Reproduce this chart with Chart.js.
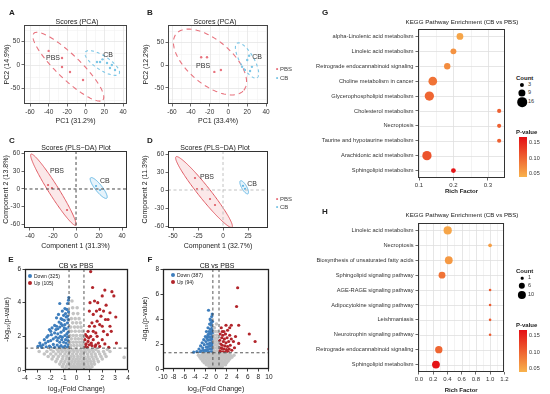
<!DOCTYPE html>
<html><head><meta charset="utf-8">
<script src="https://cdn.jsdelivr.net/npm/chart.js@4"></script>
<style>
body{margin:0;background:#fff;}
#wrap{position:relative;width:550px;height:394px;overflow:hidden;font-family:"Liberation Sans",Arial,sans-serif;color:#222;background:#fff}
canvas{position:absolute}
.t{position:absolute;white-space:nowrap;line-height:1;transform:translate(-50%,-50%)}
.l{position:absolute;white-space:nowrap;line-height:1;transform:translate(0,-50%)}
.dot{position:absolute;border-radius:50%;transform:translate(-50%,-50%)}
</style></head><body><div id="wrap"></div>
<script>
// ---------------- DATA ----------------
const groups = ['PBS', 'CB'];
// Panel A (PCA)
const aTicksX = [-60, -40, -20, 0, 20, 40];
const aTicksY = [-50, 0, 50];
const aPBS = [[-25.6, 14.9], [-25.6, -4.3], [-17, -14.9], [-3, -31.9], [-40, 30]];
const aCB = [[12, 6.4], [15.3, 6.4], [22.8, 4.3], [26, -6.4], [31.4, -10.6], [18, 12], [28, 0]];
const aEllPBS = {c: [-18.8, -3.6], u: [37.1, -70.9], v: [8.9, 18.3]};
const aEllCB = {c: [17.7, 4.3], u: [18.1, -23.2], v: [4.1, 12.5]};
// Panel B (PCA)
const bTicksX = [-60, -40, -20, 0, 20, 40];
const bTicksY = [-50, 0, 50];
const bPBS = [[-29, 17], [-22.8, 17], [-8, -11], [-15, -15]];
const bCB = [[20, 11], [25, -4], [17.5, -11], [23, -13], [14.5, -4], [22, 20]];
const bEllPBS = {c: [-19.6, 6.5], u: [35.9, -61.5], v: [15, 36.7]};
const bEllCB = {c: [19.8, 9.8], u: [10.6, -37.6], v: [6.4, 7.6]};
// Panel C (PLS-DA)
const cTicksX = [-40, -20, 0, 20, 40];
const cTicksY = [-60, -30, 0, 30, 60];
const cPBS = [[-24.3, 6.8], [-20.9, 1.7], [-7.8, -35.6]];
const cCB = [[17.4, 5.1], [20.9, -1.7]];
const cEllPBS = {c: [-19.7, -1.2], u: [19.4, -60.3], v: [3.7, 4.5]};
const cEllCB = {c: [19.7, 1.7], u: [7.0, -17.3], v: [2.4, 3.6]};
// Panel D (PLS-DA)
const dTicksX = [-50, -25, 0, 25];
const dTicksY = [-60, -30, 0, 30, 60];
const dPBS = [[-28, 20], [-26, 1.7], [-21, 1.7], [-13, -15], [-8, -25]];
const dCB = [[20, 7], [22, 2]];
const dEllPBS = {c: [-19, -3.3], u: [28, -58.7], v: [4.7, 6.2]};
const dEllCB = {c: [21.2, 4.5], u: [3.75, -10.8], v: [2.17, 2.1]};
// Panel E (volcano)
const eTicksX = [-4, -3, -2, -1, 0, 1, 2, 3, 4];
const eTicksY = [0, 2, 4, 6];
const eDownN = 325, eUpN = 105;
const eFC = 0.58, eP = 1.3;
const eGray = [[-0.9,0.05],[-0.6,0.05],[-0.4,0.05],[-0.2,0.05],[0,0.05],[0.15,0.05],[0.35,0.05],[0.55,0.05],[0.8,0.05],[1.05,0.05],
[-1.1,0.2],[-0.8,0.2],[-0.5,0.2],[-0.3,0.2],[-0.1,0.2],[0.1,0.2],[0.3,0.2],[0.5,0.2],[0.7,0.2],[0.95,0.2],[1.2,0.2],
[-1.3,0.35],[-1.0,0.35],[-0.7,0.35],[-0.45,0.35],[-0.2,0.35],[0.05,0.35],[0.25,0.35],[0.45,0.35],[0.65,0.35],[0.9,0.35],[1.15,0.35],[1.4,0.35],
[-1.6,0.5],[-1.2,0.5],[-0.9,0.5],[-0.6,0.5],[-0.35,0.5],[-0.1,0.5],[0.15,0.5],[0.4,0.5],[0.6,0.5],[0.85,0.5],[1.1,0.5],[1.35,0.5],[1.7,0.5],
[-1.9,0.65],[-1.5,0.65],[-1.1,0.65],[-0.8,0.65],[-0.5,0.65],[-0.25,0.65],[0,0.65],[0.25,0.65],[0.5,0.65],[0.75,0.65],[1.0,0.65],[1.3,0.65],[1.6,0.65],[2.0,0.65],
[-2.2,0.8],[-1.8,0.8],[-1.4,0.8],[-1.05,0.8],[-0.75,0.8],[-0.45,0.8],[-0.2,0.8],[0.1,0.8],[0.35,0.8],[0.6,0.8],[0.9,0.8],[1.2,0.8],[1.5,0.8],[1.9,0.8],[2.3,0.8],
[-2.5,0.95],[-2.0,0.95],[-1.6,0.95],[-1.25,0.95],[-0.9,0.95],[-0.6,0.95],[-0.3,0.95],[0,0.95],[0.3,0.95],[0.55,0.95],[0.85,0.95],[1.15,0.95],[1.45,0.95],[1.8,0.95],[2.2,0.95],
[-2.9,1.1],[-2.3,1.1],[-1.8,1.1],[-1.4,1.1],[-1.1,1.1],[-0.8,1.1],[-0.5,1.1],[-0.2,1.1],[0.1,1.1],[0.4,1.1],[0.7,1.1],[1.0,1.1],[1.3,1.1],[1.7,1.1],[2.1,1.1],[2.6,1.1],
[-2.0,1.22],[-1.5,1.22],[-1.2,1.22],[-0.9,1.22],[-0.6,1.22],[-0.3,1.22],[0,1.22],[0.3,1.22],[0.6,1.22],[0.9,1.22],[1.2,1.22],[1.5,1.22],[2.4,1.22],
[-0.45,1.45],[-0.2,1.45],[0.05,1.45],[0.3,1.45],[0.5,1.45],
[-0.5,1.65],[-0.25,1.65],[0,1.65],[0.25,1.65],[0.45,1.65],
[-0.4,1.85],[-0.1,1.85],[0.15,1.85],[0.4,1.85],
[-0.5,2.05],[-0.25,2.05],[0,2.05],[0.3,2.05],[0.5,2.05],
[-0.4,2.3],[-0.1,2.3],[0.2,2.3],[0.45,2.3],
[-0.45,2.55],[-0.15,2.55],[0.1,2.55],[0.35,2.55],
[-0.3,2.8],[0,2.8],[0.3,2.8],
[-0.4,3.05],[-0.1,3.05],[0.2,3.05],
[-0.25,3.35],[0.1,3.35],[-0.3,3.7],[0.05,3.7],[-0.35,4.1],[3.7,0.75]];
const eDown = [[-0.6,4.3],[-0.62,4.15],[-0.7,3.95],[-1.3,3.95],[-0.9,3.65],[-1.1,3.5],[-0.75,3.6],[-0.62,3.45],[-1.4,3.3],[-1.0,3.25],[-0.8,3.15],[-0.65,3.0],[-1.2,3.05],[-1.55,3.1],[-0.95,2.95],[-1.35,2.85],[-0.7,2.8],[-1.7,2.65],[-1.9,2.5],[-2.1,2.4],[-1.6,2.4],[-1.3,2.55],[-1.1,2.65],[-0.9,2.7],[-0.6,2.55],[-0.8,2.45],[-1.0,2.35],[-1.2,2.25],[-1.45,2.15],[-0.65,2.25],[-0.9,2.05],[-1.1,1.95],[-0.7,1.95],[-1.6,1.95],[-1.8,1.85],[-2.0,1.75],[-2.2,1.7],[-2.4,1.6],[-2.6,1.5],[-2.8,1.45],[-3.0,1.4],[-2.5,1.8],[-2.3,1.95],[-1.5,1.75],[-1.3,1.65],[-1.0,1.65],[-0.8,1.6],[-0.62,1.5],[-0.9,1.42],[-1.2,1.45],[-1.5,1.48],[-1.8,1.52],[-2.1,1.42],[-0.7,1.36],[-1.05,1.35],[-1.35,1.36],[-1.7,1.35],[-2.0,1.34],[-2.35,1.38],[-2.7,1.34],[-0.75,2.15],[-1.25,2.0],[-1.7,2.2],[-1.95,2.1],[-0.85,1.8],[-1.4,1.9],[-0.65,1.75],[-1.15,1.8],[-2.0,2.3],[-1.55,2.6],[-0.85,3.35],[-1.1,3.0],[-0.7,3.2],[-0.95,2.5],[-1.2,2.75],[-1.45,2.45],[-0.6,2.0],[-2.2,2.05],[-2.85,1.6]];
const eUp = [[1.1,5.85],[1.25,4.9],[2.2,4.75],[2.75,4.65],[2.0,4.4],[2.9,4.4],[1.4,4.1],[1.65,4.0],[1.05,4.0],[2.3,3.85],[1.8,3.6],[2.1,3.5],[2.6,3.4],[1.3,3.3],[1.9,3.2],[3.05,3.15],[2.25,3.0],[2.45,3.0],[1.6,2.9],[1.2,2.8],[1.0,2.6],[1.8,2.7],[2.6,2.6],[0.9,2.3],[1.3,2.3],[1.5,2.2],[2.1,2.3],[0.7,2.1],[1.1,2.0],[1.6,2.0],[2.4,2.1],[2.0,1.8],[0.65,1.8],[0.9,1.7],[1.3,1.8],[0.75,1.55],[1.0,1.5],[1.2,1.45],[1.5,1.5],[1.8,1.4],[0.65,1.4],[0.85,1.35],[2.5,1.35],[3.1,1.6],[2.7,2.3],[1.4,2.6],[0.8,2.0],[1.7,1.6],[2.2,1.55],[0.95,1.9],[1.15,1.6],[0.7,1.5],[1.45,1.4],[2.0,2.6],[1.55,3.5],[1.0,3.5]];
// Panel F (volcano)
const fTicksX = [-10, -8, -6, -4, -2, 0, 2, 4, 6, 8, 10];
const fTicksY = [0, 2, 4, 6, 8];
const fDownN = 387, fUpN = 94;
const fFC = 0.58, fP = 1.3;
const fGray = [[-0.8,0.05],[-0.3,0.05],[0.2,0.05],[0.7,0.05],
[-1.3,0.2],[-0.8,0.2],[-0.3,0.2],[0.2,0.2],[0.7,0.2],[1.2,0.2],
[-1.8,0.35],[-1.2,0.35],[-0.6,0.35],[0,0.35],[0.6,0.35],[1.2,0.35],[1.8,0.35],
[-2.2,0.5],[-1.6,0.5],[-1.0,0.5],[-0.4,0.5],[0.2,0.5],[0.8,0.5],[1.4,0.5],[2.0,0.5],
[-2.5,0.65],[-1.9,0.65],[-1.3,0.65],[-0.7,0.65],[-0.1,0.65],[0.5,0.65],[1.1,0.65],[1.7,0.65],[2.3,0.65],
[-2.8,0.8],[-2.2,0.8],[-1.6,0.8],[-1.0,0.8],[-0.4,0.8],[0.2,0.8],[0.8,0.8],[1.4,0.8],[2.0,0.8],[2.6,0.8],
[-3.0,0.95],[-2.4,0.95],[-1.8,0.95],[-1.2,0.95],[-0.6,0.95],[0,0.95],[0.6,0.95],[1.2,0.95],[1.8,0.95],[2.4,0.95],[3.0,0.95],
[-3.3,1.1],[-2.7,1.1],[-2.1,1.1],[-1.5,1.1],[-0.9,1.1],[-0.3,1.1],[0.3,1.1],[0.9,1.1],[1.5,1.1],[2.1,1.1],[2.7,1.1],[3.4,1.1],
[-2.4,1.22],[-1.8,1.22],[-1.2,1.22],[-0.6,1.22],[0,1.22],[0.6,1.22],[1.2,1.22],[1.8,1.22],[2.5,1.22],
[-0.3,1.45],[0.2,1.45],[-0.4,1.7],[0.1,1.7],[0.4,1.7],[-0.2,1.95],[0.3,1.95],[-0.4,2.2],[0.1,2.2],[-0.2,2.45],[0.3,2.45],[-0.35,2.7],[0.15,2.7],[-0.1,3.0],[0.35,3.0],[-0.3,3.3],[0.1,3.6]];
const fDown = [[-1.4,4.7],[-0.8,4.2],[-0.7,4.4],[-1.0,3.9],[-0.65,3.8],[-1.2,3.6],[-0.9,3.5],[-0.7,3.3],[-1.5,3.3],[-1.1,3.2],[-0.8,3.0],[-1.3,3.0],[-1.8,3.0],[-0.65,2.85],[-1.0,2.8],[-1.5,2.75],[-2.0,2.6],[-0.8,2.6],[-1.2,2.55],[-1.7,2.45],[-2.3,2.35],[-0.7,2.4],[-1.0,2.35],[-1.4,2.3],[-1.9,2.2],[-2.6,2.1],[-0.65,2.15],[-0.9,2.1],[-1.2,2.05],[-1.6,2.0],[-2.2,1.95],[-2.9,1.85],[-0.75,1.9],[-1.05,1.85],[-1.4,1.8],[-1.8,1.75],[-2.5,1.7],[-3.2,1.6],[-0.65,1.65],[-0.9,1.62],[-1.2,1.6],[-1.6,1.55],[-2.0,1.5],[-2.8,1.45],[-3.6,1.4],[-4.2,1.35],[-0.7,1.4],[-1.0,1.38],[-1.4,1.36],[-1.8,1.34],[-2.3,1.33],[-0.85,3.7],[-1.1,4.0],[-0.75,3.1],[-2.4,1.5],[-3.0,1.38],[-1.3,2.8],[-0.9,2.95],[-1.6,2.6],[-0.7,2.0]];
const fUp = [[4.1,6.5],[3.9,5.0],[4.3,3.5],[2.9,3.5],[1.9,3.5],[6.3,2.8],[7.4,2.2],[10,1.6],[4.3,2.05],[1.0,3.3],[1.5,3.0],[2.2,3.1],[0.8,2.8],[1.3,2.7],[1.8,2.8],[2.6,2.7],[1.1,2.5],[1.6,2.4],[2.1,2.5],[2.9,2.4],[0.7,2.3],[1.4,2.2],[1.9,2.1],[2.4,2.2],[3.3,2.2],[0.9,2.0],[1.2,1.9],[1.7,1.85],[2.2,1.8],[2.7,1.9],[0.75,1.7],[1.1,1.65],[1.5,1.6],[2.0,1.55],[2.5,1.6],[3.0,1.5],[0.65,1.45],[0.9,1.4],[1.3,1.38],[1.8,1.35],[2.3,1.4],[3.5,1.7],[2.6,3.3],[1.2,3.0],[3.7,2.6]];
// Panel G (KEGG)
const gPathways = ['alpha-Linolenic acid metabolism','Linoleic acid metabolism','Retrograde endocannabinoid signaling','Choline metabolism in cancer','Glycerophospholipid metabolism','Cholesterol metabolism','Necroptosis','Taurine and hypotaurine metabolism','Arachidonic acid metabolism','Sphingolipid metabolism'];
const gRich = [0.219, 0.2, 0.182, 0.14, 0.13, 0.333, 0.333, 0.333, 0.123, 0.2];
const gCount = [8, 6, 7, 13, 15, 3, 3, 3, 15, 4];
const gPval = [0.05, 0.065, 0.07, 0.09, 0.1, 0.105, 0.105, 0.105, 0.115, 0.165];
const gTicksX = [0.1, 0.2, 0.3];
const gCountLegend = [3, 9, 16];
// Panel H (KEGG)
const hPathways = ['Linoleic acid metabolism','Necroptosis','Biosynthesis of unsaturated fatty acids','Sphingolipid signaling pathway','AGE-RAGE signaling pathway','Adipocytokine signaling pathway','Leishmaniasis','Neurotrophin signaling pathway','Retrograde endocannabinoid signaling','Sphingolipid metabolism'];
const hRich = [0.405, 1.0, 0.42, 0.325, 1.0, 1.0, 1.0, 1.0, 0.28, 0.24];
const hCount = [10, 2, 9, 7, 1, 1, 1, 1, 8, 9];
const hPval = [0.05, 0.055, 0.06, 0.09, 0.11, 0.11, 0.11, 0.11, 0.1, 0.165];
const hTicksX = [0, 0.2, 0.4, 0.6, 0.8, 1.0, 1.2];
const hCountLegend = [1, 6, 10];
const pvalTicks = [0.05, 0.10, 0.15];

// ---------------- RENDER ----------------
const FF = '"Liberation Sans", Arial, sans-serif';
const wrap = document.getElementById('wrap');
const COL = {pbs: '#E8737E', cb: '#7CC6E6', pbsD: '#E05A63', cbD: '#5DB3E2', gray: '#C4C4C4', down: '#3E7EBD', up: '#B2252B'};
const P_LO = 0.04, P_HI = 0.17, C_LO = [248, 178, 76], C_HI = [228, 14, 20];
function pColor(p) {
  const t = Math.max(0, Math.min(1, (p - P_LO) / (P_HI - P_LO)));
  const c = C_LO.map((v, i) => Math.round(v + (C_HI[i] - v) * t));
  return `rgb(${c[0]},${c[1]},${c[2]})`;
}
function pts(arr) { return arr.map(p => ({x: p[0], y: p[1]})); }

function html(cls, x, y, s, css) {
  const d = document.createElement('div'); d.className = cls; d.textContent = s;
  d.style.left = x + 'px'; d.style.top = y + 'px';
  Object.assign(d.style, css || {}); wrap.appendChild(d); return d;
}
function dot(x, y, r, color) {
  const d = document.createElement('div'); d.className = 'dot';
  Object.assign(d.style, {left: x + 'px', top: y + 'px', width: 2 * r + 'px', height: 2 * r + 'px', background: color});
  wrap.appendChild(d);
}

function panelPlugin(cfg) {
  return {
    id: 'panel',
    beforeDatasetsDraw(ch) {
      const {ctx, chartArea: a, scales: {x, y}} = ch;
      ctx.save();
      ctx.beginPath(); ctx.rect(a.left, a.top, a.width, a.height); ctx.clip();
      (cfg.grid || []).forEach(g => {
        ctx.strokeStyle = g.color; ctx.lineWidth = g.w;
        (g.x || []).forEach(v => { const p = Math.round(x.getPixelForValue(v)) + 0.5; ctx.beginPath(); ctx.moveTo(p, a.top); ctx.lineTo(p, a.bottom); ctx.stroke(); });
        (g.y || []).forEach(v => { const p = Math.round(y.getPixelForValue(v)) + 0.5; ctx.beginPath(); ctx.moveTo(a.left, p); ctx.lineTo(a.right, p); ctx.stroke(); });
      });
      (cfg.ellipses || []).forEach(e => {
        ctx.beginPath();
        for (let i = 0; i <= 160; i++) {
          const t = i / 160 * Math.PI * 2;
          const X = x.getPixelForValue(e.d.c[0] + e.d.u[0] * Math.cos(t) + e.d.v[0] * Math.sin(t));
          const Y = y.getPixelForValue(e.d.c[1] + e.d.u[1] * Math.cos(t) + e.d.v[1] * Math.sin(t));
          if (i === 0) ctx.moveTo(X, Y); else ctx.lineTo(X, Y);
        }
        ctx.closePath();
        if (e.fill) { ctx.fillStyle = e.fill; ctx.fill(); }
        ctx.setLineDash(e.dash || []); ctx.strokeStyle = e.stroke; ctx.lineWidth = e.w || 1; ctx.stroke();
        ctx.setLineDash([]);
      });
      ctx.restore();
    },
    afterDatasetsDraw(ch) {
      const {ctx, chartArea: a, scales: {x, y}} = ch;
      ctx.save();
      ctx.beginPath(); ctx.rect(a.left, a.top, a.width, a.height); ctx.clip();
      (cfg.refs || []).forEach(r => {
        ctx.strokeStyle = r.color; ctx.lineWidth = r.w || 0.9; ctx.setLineDash(r.dash || [3, 2]);
        (r.x || []).forEach(v => { const p = x.getPixelForValue(v); ctx.beginPath(); ctx.moveTo(p, a.top); ctx.lineTo(p, a.bottom); ctx.stroke(); });
        (r.y || []).forEach(v => { const p = y.getPixelForValue(v); ctx.beginPath(); ctx.moveTo(a.left, p); ctx.lineTo(a.right, p); ctx.stroke(); });
      });
      ctx.setLineDash([]);
      ctx.restore();
      (cfg.labels || []).forEach(l => {
        ctx.save(); ctx.font = `${l.size || 7}px ${FF}`; ctx.fillStyle = '#333'; ctx.textAlign = 'center'; ctx.textBaseline = 'middle';
        ctx.fillText(l.text, x.getPixelForValue(l.at[0]), y.getPixelForValue(l.at[1])); ctx.restore();
      });
      ctx.save(); ctx.strokeStyle = cfg.frameColor || '#333'; ctx.lineWidth = cfg.frameW || 1;
      ctx.strokeRect(Math.round(a.left) + 0.5, Math.round(a.top) + 0.5, Math.round(a.width) - 1, Math.round(a.height) - 1);
      ctx.restore();
    }
  };
}

function scale(pos, o, space) {
  return {
    type: 'linear', position: pos, min: o.min, max: o.max, reverse: !!o.reverse,
    afterBuildTicks: s => { s.ticks = o.ticks.map(v => ({value: v})); },
    afterFit: s => { if (pos === 'left') s.width = space; else s.height = space; },
    grid: {display: true, drawOnChartArea: false, drawTicks: true, tickLength: o.tl || 2.5, tickWidth: 0.8, tickColor: o.tc || '#444', color: o.tc || '#444'},
    border: {display: false},
    ticks: {autoSkip: false, maxRotation: 0, minRotation: 0, padding: o.tp == null ? 1.5 : o.tp, color: o.lc || '#333',
      font: {family: FF, size: o.fs || 6.5}, callback: v => o.fmt ? o.fmt(v) : String(v)},
    title: {display: !!o.title, text: o.title, color: '#222', font: {family: FF, size: o.tfs || 7, weight: o.tb ? 'bold' : 'normal'},
      padding: {top: o.tpad || 0, bottom: o.tpad || 0}}
  };
}

function makeChart(box, frame, cfg) {
  const c = document.createElement('canvas');
  c.width = box.w; c.height = box.h;
  Object.assign(c.style, {left: box.x + 'px', top: box.y + 'px', width: box.w + 'px', height: box.h + 'px'});
  wrap.appendChild(c);
  new Chart(c, {
    type: cfg.type || 'scatter',
    data: {datasets: cfg.datasets},
    options: {
      responsive: false, animation: false, devicePixelRatio: 1,
      layout: {padding: {top: frame.t - box.y, right: box.x + box.w - frame.r, left: 0, bottom: 0}},
      plugins: {legend: {display: false}, tooltip: {enabled: false}},
      scales: {x: scale('bottom', cfg.x, box.y + box.h - frame.b), y: scale('left', cfg.y, frame.l - box.x)}
    },
    plugins: [panelPlugin(cfg)]
  });
}
function sds(arr, color, r) { return {data: pts(arr), backgroundColor: color, borderWidth: 0, pointRadius: r, pointHoverRadius: r}; }

// ---- A ----
makeChart({x: 0, y: 15, w: 134, h: 110}, {l: 24, t: 25, r: 127, b: 104}, {
  x: {min: -66.5, max: 44.3, ticks: aTicksX, title: 'PC1 (31.2%)'},
  y: {min: -83, max: 85.1, ticks: aTicksY, title: 'PC2 (14.9%)', tpad: 3},
  grid: [{color: '#F2F2F2', w: 0.6, x: [-50, -30, -10, 10, 30], y: [-75, -25, 25, 75]}, {color: '#E6E6E6', w: 0.8, x: aTicksX, y: aTicksY}],
  ellipses: [{d: aEllPBS, stroke: COL.pbs, dash: [5, 4], w: 1.1}, {d: aEllCB, stroke: COL.cb, dash: [3, 3], w: 1.1}],
  labels: [{text: groups[0], at: [-35.3, 15]}, {text: groups[1], at: [24, 21]}],
  frameColor: '#444',
  datasets: [sds(aPBS, COL.pbs, 1.2), sds(aCB, COL.cb, 1.2)]
});
// ---- B ----
makeChart({x: 139, y: 15, w: 133, h: 110}, {l: 168, t: 25, r: 268, b: 104}, {
  x: {min: -64.3, max: 42.1, ticks: bTicksX, title: 'PC1 (33.4%)'},
  y: {min: -84.8, max: 87, ticks: bTicksY, title: 'PC2 (12.2%)', tpad: 3},
  grid: [{color: '#F2F2F2', w: 0.6, x: [-50, -30, -10, 10, 30], y: [-75, -25, 25, 75]}, {color: '#E6E6E6', w: 0.8, x: bTicksX, y: bTicksY}],
  ellipses: [{d: bEllPBS, stroke: COL.pbs, dash: [5, 4], w: 1.1}, {d: bEllCB, stroke: COL.cb, dash: [3, 3], w: 1.1}],
  labels: [{text: groups[0], at: [-27, -2]}, {text: groups[1], at: [30.4, 17]}],
  frameColor: '#444',
  datasets: [sds(bPBS, COL.pbs, 1.2), sds(bCB, COL.cb, 1.2)]
});
// ---- C ----
makeChart({x: 0, y: 141, w: 134, h: 109}, {l: 24, t: 151, r: 127, b: 228}, {
  x: {min: -45.2, max: 44.3, ticks: cTicksX, title: 'Component 1 (31.3%)'},
  y: {min: -66.1, max: 64.4, ticks: cTicksY, title: 'Component 2 (13.8%)', tpad: 2},
  ellipses: [{d: cEllPBS, stroke: COL.pbsD, fill: 'rgba(232,110,120,0.16)', w: 1}, {d: cEllCB, stroke: COL.cbD, fill: 'rgba(100,180,230,0.16)', w: 1}],
  refs: [{color: '#333', x: [0], y: [0], dash: [3, 2.5], w: 0.9}],
  labels: [{text: groups[0], at: [-16.5, 30.5]}, {text: groups[1], at: [25, 13.5]}],
  frameColor: '#333',
  datasets: [sds(cPBS, COL.pbsD, 1.1), sds(cCB, COL.cbD, 1.1)]
});
// ---- D ----
makeChart({x: 139, y: 141, w: 133, h: 109}, {l: 168, t: 151, r: 268, b: 228}, {
  x: {min: -55, max: 45, ticks: dTicksX, title: 'Component 1 (32.7%)'},
  y: {min: -63.3, max: 65, ticks: dTicksY, title: 'Component 2 (11.3%)', tpad: 2},
  ellipses: [{d: dEllPBS, stroke: COL.pbsD, fill: 'rgba(232,110,120,0.16)', w: 1}, {d: dEllCB, stroke: COL.cbD, fill: 'rgba(100,180,230,0.16)', w: 1}],
  refs: [{color: '#BBBBBB', x: [0], y: [0], dash: [3, 2.5], w: 0.9}],
  labels: [{text: groups[0], at: [-16, 21.7]}, {text: groups[1], at: [29, 10]}],
  frameColor: '#333',
  datasets: [sds(dPBS, COL.pbsD, 1.1), sds(dCB, COL.cbD, 1.1)]
});
// ---- E ----
makeChart({x: 0, y: 259, w: 134, h: 134}, {l: 25, t: 269, r: 128, b: 370}, {
  x: {min: -4, max: 4, ticks: eTicksX, title: 'log\u2082(Fold Change)', tc: '#111', lc: '#222'},
  y: {min: 0, max: 6, ticks: eTicksY, title: '-log\u2081\u2080(p-value)', tpad: 3, tc: '#111', lc: '#222'},
  refs: [{color: '#444', x: [-eFC, eFC], y: [eP], dash: [3, 2.5], w: 0.9}],
  frameColor: '#222', frameW: 1.3,
  datasets: [sds(eGray, COL.gray, 1.8), sds(eDown, COL.down, 1.6), sds(eUp, COL.up, 1.6)]
});
// ---- F ----
makeChart({x: 139, y: 259, w: 135, h: 134}, {l: 163, t: 269, r: 270, b: 369}, {
  x: {min: -10, max: 10, ticks: fTicksX, title: 'log\u2082(Fold Change)', tc: '#111', lc: '#222'},
  y: {min: 0, max: 8, ticks: fTicksY, title: '-log\u2081\u2080(p-value)', tpad: 2, tc: '#111', lc: '#222'},
  refs: [{color: '#444', x: [-fFC, fFC], y: [fP], dash: [3, 2.5], w: 0.9}],
  frameColor: '#222', frameW: 1.3,
  datasets: [sds(fGray, COL.gray, 1.8), sds(fDown, COL.down, 1.6), sds(fUp, COL.up, 1.6)]
});
// ---- G / H ----
const gR = c => 1.2 * Math.sqrt(c), hR = c => 1.3 * Math.sqrt(c);
function bubbleData(rich, count, rf) { return rich.map((v, i) => ({x: v, y: i, r: rf(count[i])})); }
const catIdx = gPathways.map((_, i) => i);
makeChart({x: 290, y: 15, w: 220, h: 180}, {l: 418, t: 29, r: 505, b: 178}, {
  type: 'bubble',
  x: {min: 0.097, max: 0.35, ticks: gTicksX, title: 'Rich Factor', tb: true, tfs: 6, fs: 6, fmt: v => v.toFixed(1)},
  y: {min: -0.5, max: 9.5, reverse: true, ticks: catIdx, fs: 5.7, tp: 2, fmt: v => gPathways[v]},
  grid: [{color: '#EBEBEB', w: 0.6, x: [0.15, 0.25]}, {color: '#E0E0E0', w: 0.8, x: [0.1, 0.2, 0.3], y: catIdx}],
  frameColor: '#333',
  datasets: [{data: bubbleData(gRich, gCount, gR), backgroundColor: gPval.map(pColor), borderWidth: 0}]
});
const catIdxH = hPathways.map((_, i) => i);
makeChart({x: 290, y: 209, w: 220, h: 185}, {l: 418, t: 223, r: 505, b: 372}, {
  type: 'bubble',
  x: {min: -0.012, max: 1.2, ticks: hTicksX, title: 'Rich Factor', tb: true, tfs: 6, fs: 6, fmt: v => v.toFixed(1)},
  y: {min: -0.5, max: 9.5, reverse: true, ticks: catIdxH, fs: 5.7, tp: 2, fmt: v => hPathways[v]},
  grid: [{color: '#EBEBEB', w: 0.6, x: [0.1, 0.3, 0.5, 0.7, 0.9, 1.1]}, {color: '#E0E0E0', w: 0.8, x: hTicksX, y: catIdxH}],
  frameColor: '#333',
  datasets: [{data: bubbleData(hRich, hCount, hR), backgroundColor: hPval.map(pColor), borderWidth: 0}]
});

// ---- texts ----
const L = {fontWeight: 'bold', fontSize: '8px'};
html('t', 12, 13, 'A', L); html('t', 150, 13, 'B', L); html('t', 12, 141, 'C', L); html('t', 150, 141, 'D', L);
html('t', 11, 260, 'E', L); html('t', 150, 260, 'F', L); html('t', 325, 13, 'G', L); html('t', 325, 212, 'H', L);
const T = {fontSize: '7px', color: '#222'};
html('t', 77, 20.5, 'Scores (PCA)', T); html('t', 215, 20.5, 'Scores (PCA)', T);
html('t', 76, 146.5, 'Scores (PLS\u2212DA) Plot', T); html('t', 215, 146.5, 'Scores (PLS\u2212DA) Plot', T);
html('t', 76, 265, 'CB vs PBS', {fontSize: '7px', color: '#111'}); html('t', 217, 265, 'CB vs PBS', {fontSize: '7px', color: '#111'});
html('t', 462, 22, 'KEGG Pathway Enrichment (CB vs PBS)', {fontSize: '6.2px', color: '#222'});
html('t', 462, 215, 'KEGG Pathway Enrichment (CB vs PBS)', {fontSize: '6.2px', color: '#222'});
// group legends B, D
[[69, 78], [199, 207]].forEach(ys => {
  dot(277, ys[0], 0.9, COL.pbs); html('l', 280, ys[0], groups[0], {fontSize: '6px', color: '#444'});
  dot(277, ys[1], 0.9, COL.cb); html('l', 280, ys[1], groups[1], {fontSize: '6px', color: '#444'});
});
// volcano legends
[[30, 276, eDownN, eUpN], [173, 275, fDownN, fUpN]].forEach(v => {
  dot(v[0], v[1], 2, COL.down); html('l', v[0] + 4, v[1], `Down (${v[2]})`, {fontSize: '5px', color: '#222'});
  dot(v[0], v[1] + 6.5, 2, COL.up); html('l', v[0] + 4, v[1] + 6.5, `Up (${v[3]})`, {fontSize: '5px', color: '#222'});
});
// KEGG legends
function keggLegend(y0, counts, rf, barTop, barBot) {
  html('l', 516, y0, 'Count', {fontSize: '6px', fontWeight: 'bold'});
  const ys = [y0 + 7, y0 + 14.5, y0 + 24];
  counts.forEach((c, i) => { dot(522, ys[i], rf(c), '#000'); html('l', 528, ys[i], String(c), {fontSize: '5.5px', color: '#333'}); });
  html('l', 516, barTop - 5, 'P-value', {fontSize: '6px', fontWeight: 'bold'});
  const bar = document.createElement('div');
  Object.assign(bar.style, {position: 'absolute', left: '519px', top: barTop + 'px', width: '8px', height: (barBot - barTop) + 'px',
    background: `linear-gradient(to top, ${pColor(P_LO)}, ${pColor((P_LO + P_HI) / 2)}, ${pColor(P_HI)})`});
  wrap.appendChild(bar);
  pvalTicks.forEach(p => {
    const yy = barBot - (p - P_LO) / (P_HI - P_LO) * (barBot - barTop);
    html('l', 529, yy, p.toFixed(2), {fontSize: '5.5px', color: '#333'});
  });
}
keggLegend(78, gCountLegend, gR, 137, 177);
keggLegend(271, hCountLegend, hR, 330, 372);
</script></body></html>
